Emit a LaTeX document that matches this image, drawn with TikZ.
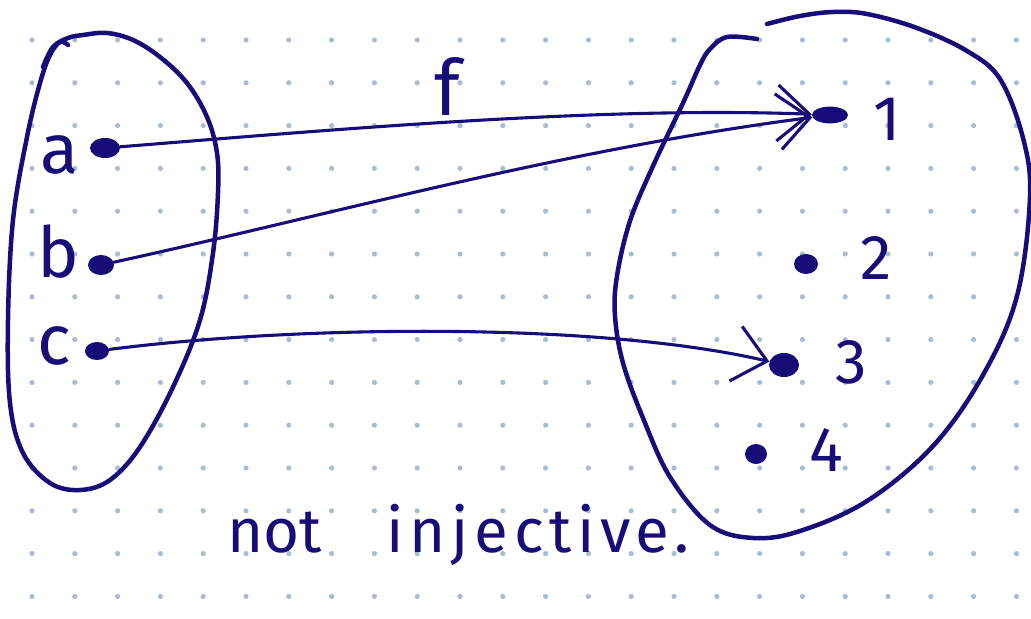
\documentclass[tikz,border=0pt]{standalone}
\usepackage{fontspec}
\setmainfont{Fira Sans}
\usetikzlibrary{arrows.meta,shapes.geometric}
\definecolor{ink}{RGB}{24,12,120}
\definecolor{griddot}{RGB}{170,188,212}

\begin{document}
\begin{tikzpicture}[x=0.025cm,y=-0.025cm,
  blob/.style={ink,line width=3.2pt,line cap=round,line join=round},
  elem/.style={ellipse,fill=ink,inner sep=0pt,minimum width=0.65cm,minimum height=0.5cm},
  lbl/.style={ink,font=\fontsize{50}{52}\selectfont,inner sep=0pt},
  digit/.style={ink,font=\fontsize{45}{47}\selectfont,inner sep=0pt},
  mapsto/.style={ink,line width=2.2pt,line cap=round,
    -{Straight Barb[length=0.8cm,width=1.4cm]}}
]
  \useasboundingbox (0,0) rectangle (1031,618);
  \fill[white] (0,0) rectangle (1031,618);

  % dotted paper
  \foreach \i in {0,...,23}
    \foreach \j in {0,...,13}
      \fill[griddot] (32+\i*42.8,40+\j*42.8) circle[radius=2.6];

  % domain
  \draw[blob] plot[smooth,tension=0.6] coordinates {
    (43,67) (53,47) (68,38) (83,35) (107,33) (133,40) (160,57) (187,83)
    (207,117) (217,153) (218,193) (213,253) (200,320) (173,387) (140,447)
    (110,480) (80,490) (50,483) (23,453) (10,403) (8,320) (13,220)
    (27,137) (40,83) (50,55) (60,42) (68,45)};

  % codomain
  \draw[blob] plot[smooth,tension=0.6] coordinates {
    (757,39) (727,37) (710,49) (700,65) (683,103) (653,166) (630,221)
    (617,276) (615,316) (623,363) (643,418) (670,477) (710,525) (753,538)
    (800,531) (867,501) (933,446) (983,375) (1017,296) (1030,197)
    (1023,138) (1000,79) (967,51) (917,28) (867,14) (833,12) (800,16)
    (767,24)};

  % elements
  \node[elem,minimum width=0.75cm] (a) at (105,148) {};
  \node[elem] (b) at (101,265) {};
  \node[elem,minimum width=0.6cm,minimum height=0.45cm] (c) at (97,351) {};
  \node[elem,minimum width=0.9cm,minimum height=0.42cm] (one) at (830,115) {};
  \node[elem,minimum width=0.6cm] (two) at (806,264) {};
  \node[elem,minimum width=0.75cm,minimum height=0.6cm] (three) at (784,365) {};
  \node[elem,minimum width=0.55cm] (four) at (756,454) {};

  % labels
  \node[lbl] (la) at (60,155) {a};
  \node[lbl] (lb) at (58,252) {b};
  \node[lbl] (lc) at (54,346) {c};
  \node[digit] (l1) at (887,119) {1};
  \node[digit] (l2) at (876,258) {2};
  \node[digit] (l3) at (851,362) {3};
  \node[digit] (l4) at (826,450) {4};
  \node[ink,font=\fontsize{55}{57}\selectfont,inner sep=0pt] (fname) at (447,86) {f};

  % the map
  \draw[mapsto] (a) .. controls (330,130) and (600,106) .. (one);
  \draw[mapsto] (b) .. controls (330,215) and (560,150) .. (one);
  \draw[mapsto] (c) .. controls (300,325) and (600,322) .. (three);

  \node[ink,font=\fontsize{44}{46}\selectfont,inner sep=0pt,anchor=base west]
    (verdict) at (227,552)
    {not\hspace{1.05em}{\addfontfeature{LetterSpace=9}injective.}};
\end{tikzpicture}
\end{document}
